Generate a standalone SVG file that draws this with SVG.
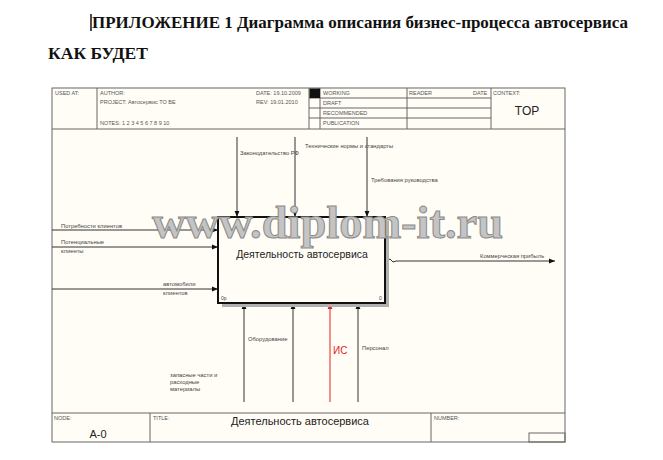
<svg xmlns="http://www.w3.org/2000/svg" width="663" height="460" viewBox="0 0 663 460">
<defs>
<style>
.hd{font-family:"Liberation Sans",Arial,sans-serif;font-size:5.5px;fill:#555}
.lb{font-family:"Liberation Sans",Arial,sans-serif;font-size:5.8px;fill:#444}
.fr{fill:none;stroke:#666;stroke-width:1}
.ar{fill:none;stroke:#333;stroke-width:1}
.ttl{font-family:"Liberation Serif","Times New Roman",serif;font-weight:bold;fill:#111}
</style>
<marker id="ah" viewBox="0 0 10 10" refX="10" refY="5" markerWidth="6" markerHeight="6" markerUnits="userSpaceOnUse" orient="auto">
<path d="M0,1 L10,5 L0,9 Z" fill="#111"/>
</marker>
<marker id="ahr" viewBox="0 0 10 10" refX="10" refY="5" markerWidth="6" markerHeight="6" markerUnits="userSpaceOnUse" orient="auto">
<path d="M0,1 L10,5 L0,9 Z" fill="#e02020"/>
</marker>
</defs>
<rect width="663" height="460" fill="#ffffff"/>
<g id="page-title">
<line x1="91" y1="14" x2="91" y2="31" stroke="#111" stroke-width="1.5"/>
<text class="ttl" x="92" y="28" font-size="17" textLength="536" lengthAdjust="spacingAndGlyphs">ПРИЛОЖЕНИЕ 1 Диаграмма описания бизнес-процесса автосервиса</text>
<text class="ttl" x="48" y="59" font-size="16" textLength="100" lengthAdjust="spacingAndGlyphs">КАК БУДЕТ</text>
</g>
<g id="frame">
<rect x="52" y="88" width="513" height="354" fill="#fffdf6" stroke="#666" stroke-width="1"/>
<line class="fr" x1="52" y1="129" x2="565" y2="129"/>
<line class="fr" x1="97" y1="88" x2="97" y2="129"/>
<line class="fr" x1="309" y1="88" x2="309" y2="129"/>
<line class="fr" x1="320" y1="88" x2="320" y2="129"/>
<line class="fr" x1="407" y1="88" x2="407" y2="129"/>
<line class="fr" x1="491" y1="88" x2="491" y2="129"/>
<line class="fr" x1="309" y1="98" x2="491" y2="98"/>
<line class="fr" x1="309" y1="108" x2="491" y2="108"/>
<line class="fr" x1="309" y1="118" x2="491" y2="118"/>
<rect x="309.5" y="88.5" width="10.5" height="9.5" fill="#111"/>
<text class="hd" x="55" y="95">USED AT:</text>
<text class="hd" x="100" y="95">AUTHOR:</text>
<text class="hd" x="100" y="104">PROJECT:   Автосервис TO BE</text>
<text class="hd" x="100" y="125">NOTES:  1  2  3  4  5  6  7  8  9  10</text>
<text class="hd" x="256" y="95">DATE:  19.10.2009</text>
<text class="hd" x="256" y="104">REV:    19.01.2010</text>
<text class="hd" x="323" y="95">WORKING</text>
<text class="hd" x="323" y="105">DRAFT</text>
<text class="hd" x="323" y="115">RECOMMENDED</text>
<text class="hd" x="323" y="125">PUBLICATION</text>
<text class="hd" x="409" y="95">READER</text>
<text class="hd" x="473" y="95">DATE</text>
<text class="hd" x="493" y="95">CONTEXT:</text>
<text x="527" y="115" font-family="Liberation Sans,Arial,sans-serif" font-size="12" fill="#222" text-anchor="middle">TOP</text>
<line class="fr" x1="52" y1="413" x2="565" y2="413"/>
<line class="fr" x1="150" y1="413" x2="150" y2="442"/>
<line class="fr" x1="431" y1="413" x2="431" y2="442"/>
<rect class="fr" x="529" y="433" width="36" height="9"/>
<text class="hd" x="54" y="420">NODE:</text>
<text x="98" y="438" font-family="Liberation Sans,Arial,sans-serif" font-size="11" fill="#222" text-anchor="middle">A-0</text>
<text class="hd" x="153" y="420">TITLE:</text>
<text x="300" y="425" font-family="Liberation Sans,Arial,sans-serif" font-size="11" fill="#222" text-anchor="middle">Деятельность автосервиса</text>
<text class="hd" x="434" y="420">NUMBER:</text>
</g>
<g id="connectors">
<line class="ar" x1="237" y1="137" x2="237" y2="217" marker-end="url(#ah)"/>
<line class="ar" x1="295" y1="137" x2="295" y2="217" marker-end="url(#ah)"/>
<line class="ar" x1="367" y1="137" x2="367" y2="217" marker-end="url(#ah)"/>
<line class="ar" x1="52" y1="230" x2="218" y2="230" marker-end="url(#ah)"/>
<line class="ar" x1="52" y1="247" x2="218" y2="247" marker-end="url(#ah)"/>
<line class="ar" x1="52" y1="289" x2="218" y2="289" marker-end="url(#ah)"/>
<path class="ar" d="M386,261 L390,259 L393,262 L396,261 L555,261" marker-end="url(#ah)"/>
<line class="ar" x1="244" y1="402" x2="244" y2="303" marker-end="url(#ah)"/>
<line class="ar" x1="293" y1="402" x2="293" y2="303" marker-end="url(#ah)"/>
<line x1="330" y1="402" x2="330" y2="303" stroke="#e02020" stroke-width="1" marker-end="url(#ahr)"/>
<line class="ar" x1="358" y1="402" x2="358" y2="303" marker-end="url(#ah)"/>
<text class="lb" x="240" y="155">Законодательство РФ</text>
<text class="lb" x="305" y="148">Технические нормы и стандарты</text>
<text class="lb" x="371" y="182">Требования руководства</text>
<text class="lb" x="61" y="228">Потребности  клиентов</text>
<text class="lb" x="61" y="244">Потенциальные</text>
<text class="lb" x="61" y="253">клиенты</text>
<text class="lb" x="163" y="286">автомобили</text>
<text class="lb" x="163" y="295">клиентов</text>
<text class="lb" x="480" y="258">Коммерческая прибыль</text>
<text class="lb" x="248" y="341">Оборудование</text>
<text class="lb" x="170" y="377">запасные части и</text>
<text class="lb" x="170" y="384">расходные</text>
<text class="lb" x="170" y="391">материалы</text>
<text x="333" y="354" font-family="Liberation Sans,Arial,sans-serif" font-size="10" fill="#e02020">ИС</text>
<text class="lb" x="362" y="350">Персонал</text>
</g>
<g id="node-a0">
<rect x="222" y="221" width="167" height="86" fill="#b0b0b0"/>
<rect x="218" y="217" width="167" height="86" fill="#fffdf6" stroke="#111" stroke-width="2"/>
<text x="302" y="258" font-family="Liberation Sans,Arial,sans-serif" font-size="10.5" fill="#222" text-anchor="middle">Деятельность автосервиса</text>
<text x="221" y="300" font-family="Liberation Sans,Arial,sans-serif" font-size="5" fill="#444">0р</text>
<text x="379" y="300" font-family="Liberation Sans,Arial,sans-serif" font-size="5" fill="#444">0</text>
</g>
<g id="watermark">
<text x="152" y="238" font-family="Liberation Serif,'Times New Roman',serif" font-weight="bold" font-size="46" fill="#c4c4c4" stroke="#8a8a8a" stroke-width="1" textLength="351" lengthAdjust="spacingAndGlyphs">www.diplom-it.ru</text>
</g>
</svg>
